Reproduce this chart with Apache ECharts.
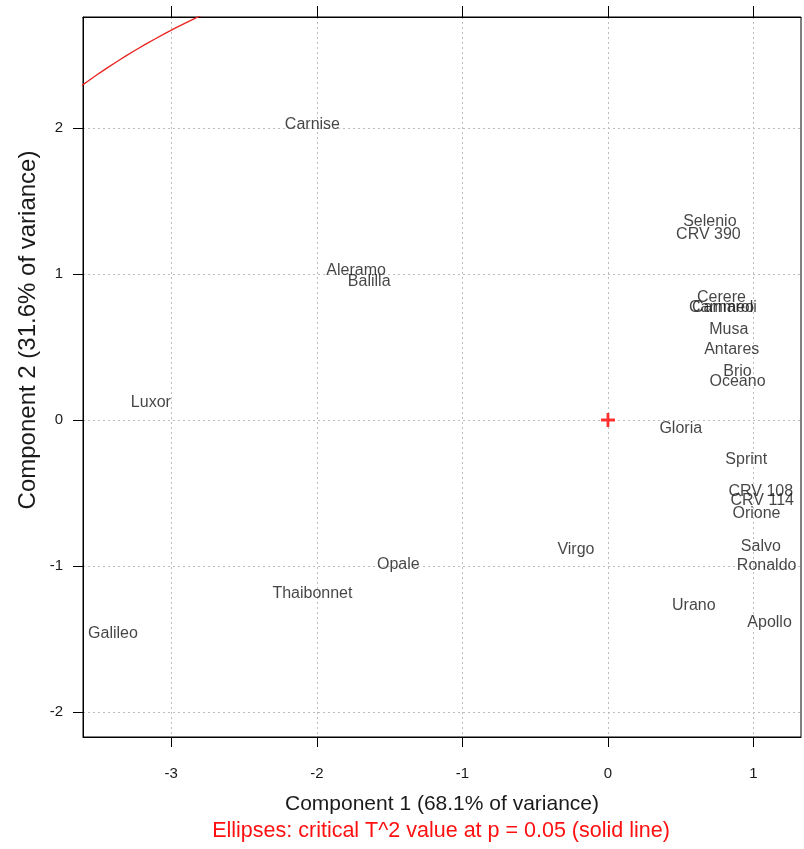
<!DOCTYPE html>
<html>
<head>
<meta charset="utf-8">
<script src="https://cdn.jsdelivr.net/npm/echarts@6/dist/echarts.min.js"></script>
<style>
html,body{margin:0;padding:0;background:#fff;}
#chart{width:804px;height:849px;}
</style>
</head>
<body>
<div id="chart"></div>
<script>
// ---- data ----
var names = ["Carnise","Selenio","CRV 390","Aleramo","Balilla","Cerere","Carnaroli","Cammeo","Musa","Antares","Brio","Oceano","Luxor","Gloria","Sprint","CRV 108","CRV 114","Orione","Salvo","Ronaldo","Virgo","Opale","Thaibonnet","Urano","Apollo","Galileo"];
var comp1 = [-2.03, 0.70, 0.69, -1.73, -1.64, 0.78, 0.80, 0.78, 0.83, 0.85, 0.89, 0.89, -3.14, 0.50, 0.95, 1.05, 1.06, 1.02, 1.05, 1.09, -0.22, -1.44, -2.03, 0.59, 1.11, -3.40];
var comp2 = [2.02, 1.36, 1.27, 1.02, 0.95, 0.84, 0.77, 0.77, 0.62, 0.48, 0.33, 0.26, 0.12, -0.06, -0.27, -0.49, -0.55, -0.64, -0.87, -1.00, -0.89, -0.99, -1.19, -1.27, -1.39, -1.46];
var centre = [0, 0];
var ellipseSemiAxes = [4.94, 3.36]; // critical T^2 ellipse (p = 0.05)
var xTicks = [-3, -2, -1, 0, 1];
var yTicks = [-2, -1, 0, 1, 2];
var xRange = [-3.606, 1.326];
var yRange = [-2.171, 2.76];
var xTitle = "Component 1 (68.1% of variance)";
var yTitle = "Component 2 (31.6% of variance)";
var subTitle = "Ellipses: critical T^2 value at p = 0.05 (solid line)";

// ---- build ----
var labelData = names.map(function (n, i) { return { name: n, value: [comp1[i], comp2[i]] }; });
var ellipse = [];
for (var k = 0; k <= 360; k++) {
  var t = k * Math.PI / 180;
  ellipse.push([centre[0] + ellipseSemiAxes[0] * Math.cos(t), centre[1] + ellipseSemiAxes[1] * Math.sin(t)]);
}
var FONT = '"Liberation Sans", Arial, sans-serif';
var chart = echarts.init(document.getElementById('chart'), null, { renderer: 'canvas' });
chart.setOption({
  animation: false,
  backgroundColor: '#fff',
  grid: { left: 83, right: 3, top: 17, bottom: 112, show: true, borderColor: '#000', borderWidth: 1, containLabel: false },
  xAxis: [{
    type: 'value', min: xRange[0], max: xRange[1], position: 'bottom',
    axisLine: { show: true, onZero: false, lineStyle: { color: '#000', width: 1 } },
    axisTick: { show: true, length: 10, inside: false, customValues: xTicks, lineStyle: { color: '#000' } },
    axisLabel: { show: true, customValues: xTicks, margin: 29, color: '#1a1a1a', fontSize: 15, fontFamily: FONT },
    splitLine: { show: true, lineStyle: { color: '#bdbdbd', type: [2, 3], width: 1 } }
  }, {
    type: 'value', min: xRange[0], max: xRange[1], position: 'top',
    axisLine: { show: true, onZero: false, lineStyle: { color: '#000', width: 1 } },
    axisTick: { show: true, length: 11, inside: false, customValues: xTicks, lineStyle: { color: '#000' } },
    axisLabel: { show: false },
    splitLine: { show: false }
  }],
  yAxis: [{
    type: 'value', min: yRange[0], max: yRange[1], position: 'left',
    axisLine: { show: true, onZero: false, lineStyle: { color: '#000', width: 1 } },
    axisTick: { show: true, length: 10, inside: false, customValues: yTicks, lineStyle: { color: '#000' } },
    axisLabel: { show: true, customValues: yTicks, margin: 20, color: '#1a1a1a', fontSize: 15, fontFamily: FONT },
    splitLine: { show: true, lineStyle: { color: '#bdbdbd', type: [2, 3], width: 1 } }
  }],
  series: [{
    type: 'line', data: ellipse, showSymbol: false, symbol: 'none', clip: true, smooth: false,
    lineStyle: { color: '#e8231f', width: 1.3 }, z: 3
  }, {
    type: 'scatter', data: [centre], symbol: 'path://M6,0h3v15h-3zM0,6h15v3h-15z', symbolSize: 14,
    itemStyle: { color: '#ff0000' }, z: 4
  }, {
    type: 'scatter', data: labelData, symbolSize: 1, itemStyle: { color: 'rgba(0,0,0,0)' },
    label: { show: true, position: 'inside', formatter: '{b}', color: '#151515', fontSize: 16, fontFamily: FONT },
    labelLayout: { hideOverlap: false }, z: 5
  }],
  graphic: [{
    type: 'text', x: 442, y: 804,
    style: { text: xTitle, fill: '#1a1a1a', fontSize: 21, fontFamily: FONT, textAlign: 'center', textVerticalAlign: 'middle' }
  }, {
    type: 'text', x: 441, y: 831,
    style: { text: subTitle, fill: '#ff1010', fontSize: 21.5, fontFamily: FONT, textAlign: 'center', textVerticalAlign: 'middle' }
  }, {
    type: 'text', x: 28, y: 330, rotation: Math.PI / 2,
    style: { text: yTitle, fill: '#1a1a1a', fontSize: 24, fontFamily: FONT, textAlign: 'center', textVerticalAlign: 'middle' }
  }]
});
</script>
</body>
</html>
